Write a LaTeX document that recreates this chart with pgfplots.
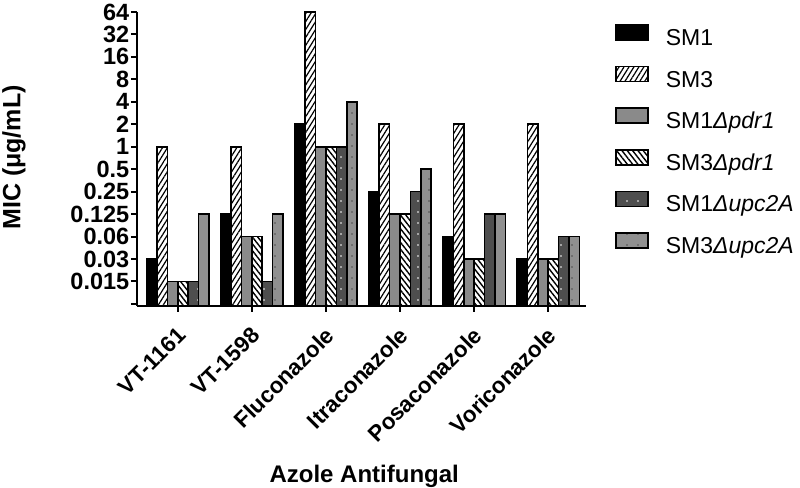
\documentclass[border=0pt]{standalone}
\usepackage{fontspec}
\setmainfont{Liberation Sans}
\usepackage{pgfplots}
\usepackage{pgfplotstable}
\pgfplotsset{compat=1.18}
\usetikzlibrary{patterns.meta}

\pgfplotstableread{
x sma smb smap smbp smau smbu
0 0.03125 1 0.015625 0.015625 0.015625 0.125
1 0.125 1 0.0625 0.0625 0.015625 0.125
2 2 64 1 1 1 4
3 0.25 2 0.125 0.125 0.25 0.5
4 0.0625 2 0.03125 0.03125 0.125 0.125
5 0.03125 2 0.03125 0.03125 0.0625 0.0625
}\data

\definecolor{gA}{HTML}{8A8A8A}
\definecolor{gB}{HTML}{4E4E4E}
\definecolor{gC}{HTML}{909090}

\begin{document}
\begin{tikzpicture}
\path[use as bounding box] (-137pt,-181pt) rectangle (663pt,306pt);
\begin{axis}[
  at={(0pt,0pt)}, anchor=south west,
  scale only axis, width=449pt, height=294pt,
  ybar=0pt, bar width=10.4pt,
  ymode=log, log basis y=2, log origin y=infty,
  ymin=0.00732, ymax=64,
  xmin=-0.55, xmax=5.51,
  axis lines*=left,
  axis line style={line width=2pt},
  every tick/.style={line width=2pt, black},
  major tick length=6pt,
  tick align=outside,
  ytick={0.0078125,0.015625,0.03125,0.0625,0.125,0.25,0.5,1,2,4,8,16,32,64},
  yticklabels={,0.015,0.03,0.06,0.125,0.25,0.5,1,2,4,8,16,32,64},
  xtick={0,1,2,3,4,5},
  xticklabels={VT-1161,VT-1598,Fluconazole,Itraconazole,Posaconazole,Voriconazole},
  /pgf/number format/assume math mode=true,
  yticklabel style={font=\bfseries\fontsize{23.5}{24}\selectfont, inner sep=1.5pt},
  xticklabel style={font=\bfseries\fontsize{22.5}{23}\selectfont, xshift=-2pt, yshift=-12pt, rotate=45, anchor=north east, inner sep=1pt},
  ylabel={MIC (μg/mL)},
  ylabel style={font=\bfseries\fontsize{25}{25}\selectfont, at={(axis description cs:-0.274,0.505)}, anchor=center},
  xlabel={Azole Antifungal},
  xlabel style={font=\bfseries\fontsize{24}{24}\selectfont, at={(axis description cs:0.506,-0.578)}, anchor=center},
  legend image code/.code={\draw[#1] (0pt,0pt) rectangle (32pt,15pt);},
  legend style={at={(rel axis cs:1.058,0.966)}, anchor=north west, draw=none, fill=none,
    row sep=15.3pt, column sep=17pt,
    nodes={inner sep=0pt, text height=16pt, text depth=5pt},
    font=\fontsize{23}{23}\selectfont},
  legend cell align=left,
  clip=false,
]
\addplot[draw=black, line width=1.6pt, fill=black] table[x=x,y=sma] {\data};
\addplot[draw=black, line width=1.6pt, preaction={fill=white},
  pattern={Lines[angle=58,distance=4.2pt,line width=1.2pt]}, pattern color=black] table[x=x,y=smb] {\data};
\addplot[draw=black, line width=1.6pt, fill=gA] table[x=x,y=smap] {\data};
\addplot[draw=black, line width=1.6pt, preaction={fill=white},
  pattern={Lines[angle=-52,distance=4.2pt,line width=1.4pt]}, pattern color=black] table[x=x,y=smbp] {\data};
\addplot[draw=black, line width=1.6pt, preaction={fill=gB},
  pattern={Dots[distance=11pt,radius=0.9pt]}, pattern color=white] table[x=x,y=smau] {\data};
\addplot[draw=black, line width=1.6pt, preaction={fill=gC},
  pattern={Dots[distance=11pt,radius=0.9pt]}, pattern color=gB] table[x=x,y=smbu] {\data};
\legend{SM1, SM3, SM1\textit{Δpdr1}, SM3\textit{Δpdr1}, SM1\textit{Δupc2A}, SM3\textit{Δupc2A}}
\end{axis}
\end{tikzpicture}
\end{document}
